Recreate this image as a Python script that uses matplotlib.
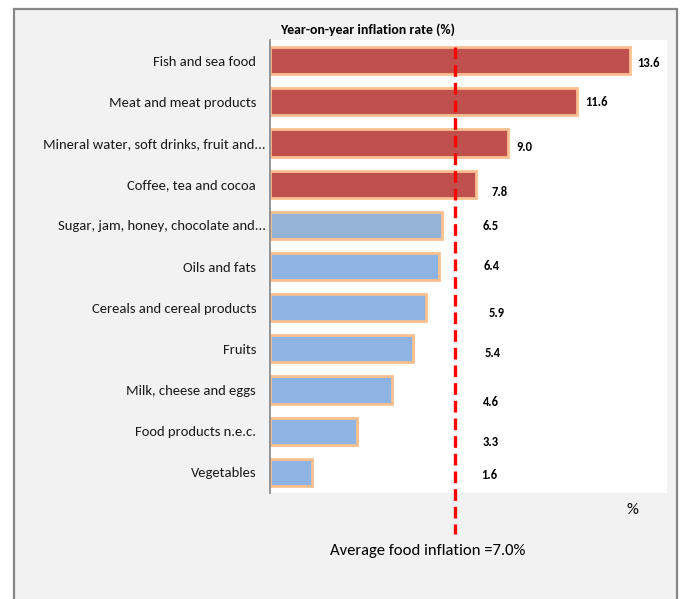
import matplotlib
matplotlib.use("Agg")
import matplotlib.pyplot as plt
from matplotlib.patches import Rectangle
from matplotlib.transforms import ScaledTranslation

categories = ["Fish and sea food", "Meat and meat products",
              "Mineral water, soft drinks, fruit and...", "Coffee, tea and cocoa",
              "Sugar, jam, honey, chocolate and...", "Oils and fats",
              "Cereals and cereal products", "Fruits", "Milk, cheese and eggs",
              "Food products n.e.c.", "Vegetables"]
values = [13.6, 11.6, 9.0, 7.8, 6.5, 6.4, 5.9, 5.4, 4.6, 3.3, 1.6]
value_labels = ["13.6", "11.6", "9.0", "7.8", "6.5", "6.4", "5.9", "5.4", "4.6", "3.3", "1.6"]
average = 7.0

# layout of the data labels (data units / bar units)
label_x = [14.28, 12.32, 9.60, 8.69, 8.35, 8.39, 8.58, 8.42, 8.35, 8.35, 8.27]
label_dy = [0.06, 0.01, 0.10, 0.20, 0.02, -0.02, 0.12, 0.11, 0.30, 0.25, 0.06]
colors = ["#C0504D"] * 4 + ["#95B3D7"] + ["#8EB4E3"] * 6

plt.rcParams['font.family'] = ['Carlito', 'DejaVu Sans']

W, H = 680, 599
fig = plt.figure(figsize=(W / 100, H / 100), dpi=100)
fig.patch.set_facecolor("white")
fig.patches.append(Rectangle((14 / W, -0.05), (677 - 14) / W, 1.05 - 9 / H,
                             transform=fig.transFigure, facecolor="#F2F2F2",
                             edgecolor="#878787", linewidth=1.6, zorder=0))

ax = fig.add_axes([270 / W, 1 - 493 / H, (667 - 270) / W, (493 - 40) / H])
ax.set_zorder(2)
ax.set_facecolor("white")
y = list(range(len(categories)))
ax.barh(y, values, height=0.66, color=colors, edgecolor="#FAC090", linewidth=2.0, zorder=2)
ax.set_xlim(0, 15)
ax.set_ylim(len(categories) - 0.5, -0.5)
ax.set_yticks(y)
ax.set_yticklabels(categories, fontsize=10.5, color="#1a1a1a")
ax.tick_params(axis="y", length=0, pad=10)
for lab in ax.get_yticklabels():
    if lab.get_text().endswith("..."):
        lab.set_transform(lab.get_transform() + ScaledTranslation(7 / 72, 0, fig.dpi_scale_trans))
ax.set_xticks([])
for s in ["top", "right", "bottom"]:
    ax.spines[s].set_visible(False)
ax.spines["left"].set_color("#8C8C8C")
ax.spines["left"].set_linewidth(1.3)

for i, (lab, lx, dy) in enumerate(zip(value_labels, label_x, label_dy)):
    ax.text(lx, i + dy, lab, ha="center", va="center", fontsize=9, fontweight="bold", zorder=4)

ax.plot([average, average], [-0.32, len(categories) - 0.5 + 1.0], color="#FF0000",
        linewidth=2.4, linestyle=(0, (3.5, 1.8)), clip_on=False, zorder=3)

fig.text(280 / W, 1 - 30 / H, "Year-on-year inflation rate (%)", fontsize=10,
         fontweight="bold", ha="left", va="center")
fig.text(632 / W, 1 - 510 / H, "%", fontsize=12, ha="center", va="center")
fig.text(428 / W, 1 - 551 / H, "Average food inflation =7.0%", fontsize=12,
         ha="center", va="center")

fig.savefig("out.png", dpi=100)
